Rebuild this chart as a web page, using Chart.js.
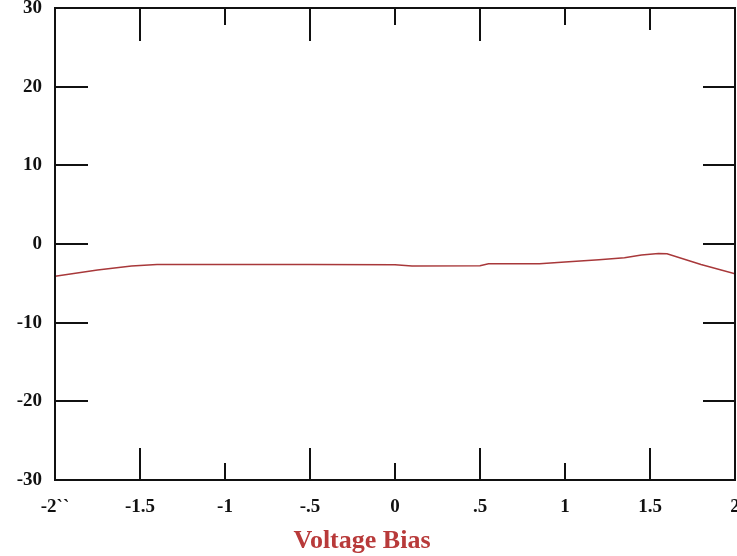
<!DOCTYPE html>
<html>
<head>
<meta charset="utf-8">
<script src="https://cdn.jsdelivr.net/npm/chart.js@4"></script>
<style>
  body { margin: 0; background: #fff; }
  #wrap { width: 737px; height: 556px; }
</style>
</head>
<body>
<div id="wrap"><canvas id="biasChart" width="737" height="556"></canvas></div>
<script>
// Curve
const biasValues = [-2, -1.75, -1.55, -1.4, -1.0, -0.5, 0, 0.1, 0.5, 0.55, 0.85, 1.0, 1.2, 1.35, 1.45, 1.55, 1.6, 1.8, 2.0];
const currentValues = [-4.1, -3.3, -2.8, -2.6, -2.6, -2.6, -2.65, -2.8, -2.75, -2.5, -2.5, -2.3, -2.0, -1.75, -1.4, -1.2, -1.25, -2.6, -3.8];

// Axis ticks
const xTickValues = [-2, -1.5, -1, -0.5, 0, 0.5, 1, 1.5, 2];
const xTickLabels = ['-2``', '-1.5', '-1', '-.5', '0', '.5', '1', '1.5', '2'];
const yTickValues = [30, 20, 10, 0, -10, -20, -30];
const xTitle = 'Voltage Bias';

const tickFont = { family: 'Liberation Serif', size: 19, weight: 'bold' };

// Frame with inward tick marks on all four sides, plus the axis title
const frameTicks = {
  id: 'frameTicks',
  afterDraw(chart) {
    const { ctx, chartArea: a, scales: { x, y } } = chart;
    ctx.save();
    ctx.strokeStyle = '#111';
    ctx.lineWidth = 2;
    ctx.beginPath();
    xTickValues.slice(1, -1).forEach((v) => {
      const px = Math.round(x.getPixelForValue(v));
      const half = Math.abs(v % 1) === 0.5;
      const bottomLen = half ? 32 : 17;
      const topLen = v === 1.5 ? 22 : (half ? 33 : 17);
      ctx.moveTo(px, a.bottom);
      ctx.lineTo(px, a.bottom - bottomLen);
      ctx.moveTo(px, a.top);
      ctx.lineTo(px, a.top + topLen);
    });
    yTickValues.slice(1, -1).forEach((v) => {
      const py = Math.round(y.getPixelForValue(v));
      ctx.moveTo(a.left, py);
      ctx.lineTo(a.left + 33, py);
      ctx.moveTo(a.right, py);
      ctx.lineTo(a.right - 32, py);
    });
    ctx.stroke();
    ctx.strokeRect(a.left, a.top, a.right - a.left, a.bottom - a.top);

    // title sits a bit left of the plot centre in the original
    ctx.fillStyle = '#b83a3a';
    ctx.font = 'bold 26px "Liberation Serif"';
    ctx.textAlign = 'center';
    ctx.textBaseline = 'middle';
    ctx.fillText(xTitle, 362, 541);
    ctx.restore();
  },
};

new Chart(document.getElementById('biasChart'), {
  type: 'line',
  data: {
    datasets: [
      {
        data: biasValues.map((b, i) => ({ x: b, y: currentValues[i] })),
        borderColor: '#a8383a',
        borderWidth: 1.5,
        pointRadius: 0,
        tension: 0,
        fill: false,
      },
    ],
  },
  options: {
    responsive: false,
    animation: false,
    layout: { padding: { top: 8, right: 2, left: 0, bottom: 0 } },
    plugins: {
      legend: { display: false },
      tooltip: { enabled: false },
    },
    scales: {
      x: {
        type: 'linear',
        min: -2,
        max: 2,
        grid: { display: false, drawTicks: false },
        border: { display: false },
        afterBuildTicks: (scale) => {
          scale.ticks = xTickValues.map((v) => ({ value: v }));
        },
        afterFit: (scale) => {
          scale.height = 76;
          scale.paddingLeft = 0;
          scale.paddingRight = 0;
        },
        ticks: {
          color: '#111',
          font: tickFont,
          padding: 16,
          maxRotation: 0,
          autoSkip: false,
          callback: (v) => xTickLabels[xTickValues.indexOf(v)],
        },
      },
      y: {
        min: -30,
        max: 30,
        grid: { display: false, drawTicks: false },
        border: { display: false },
        afterBuildTicks: (scale) => {
          scale.ticks = yTickValues.map((v) => ({ value: v }));
        },
        afterFit: (scale) => {
          scale.width = 55;
          scale.paddingTop = 0;
          scale.paddingBottom = 0;
        },
        ticks: {
          color: '#111',
          font: tickFont,
          padding: 13,
        },
      },
    },
  },
  plugins: [frameTicks],
});
</script>
</body>
</html>
